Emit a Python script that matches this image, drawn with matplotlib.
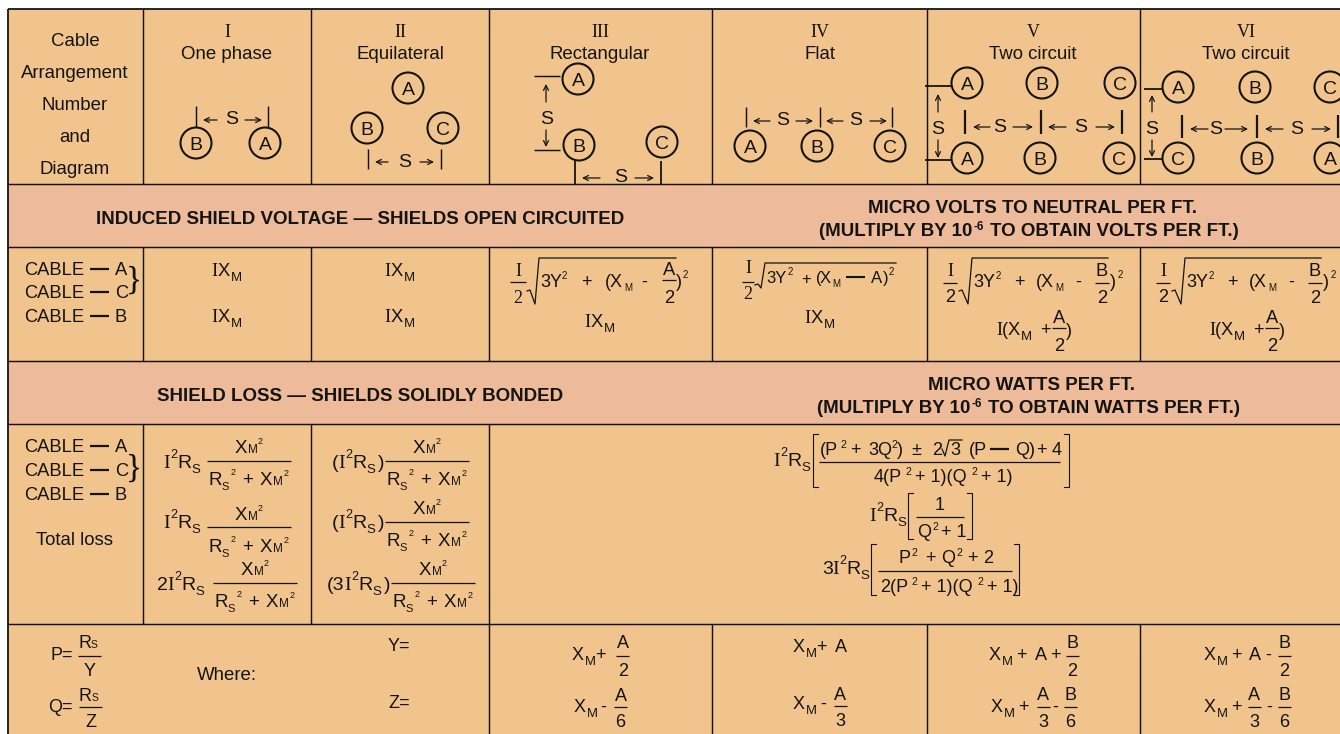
import matplotlib
matplotlib.use("Agg")
import matplotlib.pyplot as plt
from matplotlib.patches import Rectangle, Ellipse

# ---- content ----
COL_X = [142.5, 310.5, 488.5, 711.5, 926.5, 1139.5]
ROW_Y = [184, 247, 361, 424, 624]
ROMAN = ["I", "II", "III", "IV", "V", "VI"]
TITLES = ["One phase", "Equilateral", "Rectangular", "Flat", "Two circuit", "Two circuit"]
ROMAN_CX = [227, 400, 600, 820, 1033, 1246]
HEAD_LEFT = ["Cable", "Arrangement", "Number", "and", "Diagram"]
HEAD_BASE = [46, 78, 110, 142, 174]

TAN = "#F0C48C"
BAND = "#EEBB9A"
INK = "#141414"
SANS = "Liberation Sans"
SERIF = "Liberation Serif"

fig = plt.figure(figsize=(13.40, 7.34), dpi=100, facecolor="white")
ax = fig.add_axes([0, 0, 1, 1])
ax.set_xlim(0, 1340)
ax.set_ylim(734, 0)
ax.axis("off")


def T(x, y, s, size=13.4, fam=SANS, ha="left", weight="normal"):
    ax.text(x, y, s, fontsize=size, family=fam, ha=ha, va="baseline",
            color=INK, weight=weight, zorder=5)


def L(x0, y0, x1, y1, lw=1.05):
    ax.plot([x0, x1], [y0, y1], color=INK, lw=lw, solid_capstyle="butt", zorder=4)


def C(x, y, s):
    ax.add_patch(Ellipse((x, y), 31, 31, fc="none", ec=INK, lw=1.5, zorder=4))
    T(x, y + 7, s, 14, ha="center")


def AR(x0, y0, x1, y1):
    ax.annotate("", xy=(x1, y1), xytext=(x0, y0),
                arrowprops=dict(arrowstyle="->", lw=0.9, color=INK, mutation_scale=9,
                                shrinkA=0, shrinkB=0), zorder=5)


def XM(x, y, size=13.2):
    T(x, y, "X", size)
    T(x + 13, y + 5, "M", size * 0.72)


def IXM(cx, y):
    T(cx - 16, y, "I", 13.2, SERIF)
    T(cx - 9, y, "X", 13.2)
    T(cx + 4, y + 5, "M", 9.5)


def I2RS(x, y):
    T(x, y, "I", 14, SERIF)
    T(x + 7, y - 10, "2", 9)
    T(x + 14, y, "R", 14)
    T(x + 28, y + 5, "S", 9.5)


def FR(cx, ybar, w, num, den, nb, db, size=13.2):
    L(cx - w / 2, ybar, cx + w / 2, ybar, 0.9)
    if num:
        T(cx, nb, num, size, ha="center")
    if den:
        T(cx, db, den, size, ha="center")


def BR(x0, y0, y1, side):
    d = 5 if side == "l" else -5
    ax.plot([x0 + d, x0, x0, x0 + d], [y0, y0, y1, y1], color=INK, lw=0.8, zorder=4)


def RAD(x0, ya, yb, x1, x2, ytop):
    ax.plot([x0, x0 + 3, x1 - 4, x1, x2], [ya, ya - 1, yb, ytop, ytop], color=INK, lw=0.9, zorder=4)


# ---- backgrounds ----
ax.add_patch(Rectangle((8, 9), 1340, 730, fc=TAN, ec="none", zorder=0))
for (a, b) in [(ROW_Y[0], ROW_Y[1]), (ROW_Y[2], ROW_Y[3])]:
    ax.add_patch(Rectangle((8, a), 1340, b - a, fc=BAND, ec="none", zorder=1))

# ---- grid ----
L(8, 9, 1340, 9, 1.3)
L(8, 9, 8, 734, 1.3)
for y in ROW_Y:
    L(8, y, 1340, y)
for x in COL_X:
    L(x, 9, x, ROW_Y[0])
    L(x, ROW_Y[1], x, ROW_Y[2])
for x in COL_X[:3]:
    L(x, ROW_Y[3], x, ROW_Y[4])
for x in COL_X[2:]:
    L(x, ROW_Y[4], x, 734)

# ---- header ----
for s, y in zip(HEAD_LEFT, HEAD_BASE):
    T(75, y, s, ha="center")
for r, t, cx in zip(ROMAN, TITLES, ROMAN_CX):
    T(cx, 37, r, 13, SERIF, ha="center")
    T(cx, 59, t, ha="center")

S = 14
# I
C(196, 143, "B"); C(265, 143, "A")
L(196, 106, 196, 127); L(268, 106, 268, 127)
AR(217, 120, 203, 120); AR(245, 120, 262, 120)
T(232, 124, "S", ha="center", size=S)
# II
C(408, 88, "A"); C(367, 128, "B"); C(443, 128, "C")
L(368, 149, 368, 169); L(441, 149, 441, 169)
AR(388, 162, 375, 162); AR(420, 162, 434, 162)
T(405, 167, "S", ha="center", size=S)
# III
C(578, 79, "A"); C(579, 145, "B"); C(662, 142, "C")
L(534, 76, 560, 76); L(534, 150, 560, 150)
AR(546, 102, 546, 84); AR(546, 130, 546, 147)
T(547, 124, "S", ha="center", size=S)
L(575, 161, 575, 184, 1.3); L(661, 161, 661, 184, 1.3)
AR(600, 178, 582, 178); AR(635, 178, 654, 178)
T(621, 182, "S", ha="center", size=S)
# IV
C(750, 146, "A"); C(817, 146, "B"); C(890, 146, "C")
for x in (746, 819.5, 892):
    L(x, 107, x, 127)
AR(770, 121, 753, 121); AR(796, 121, 813, 121)
AR(843, 121, 826, 121); AR(870, 121, 887, 121)
T(783, 125, "S", ha="center", size=S); T(856, 125, "S", ha="center", size=S)
# V
for x, s in zip((967, 1042, 1120), "ABC"):
    C(x, 83, s)
for x, s in zip((967, 1040, 1119), "ABC"):
    C(x, 158, s)
L(925, 86, 952, 86, 1.3); L(925, 160, 952, 160, 1.3)
AR(938, 112, 938, 94); AR(938, 140, 938, 158)
T(938, 134, "S", ha="center", size=S)
for x in (965, 1041, 1122):
    L(x, 110, x, 134, 1.6)
AR(990, 127, 973, 127); AR(1013, 127, 1033, 127)
AR(1066, 127, 1048, 127); AR(1096, 127, 1115, 127)
T(1000, 132, "S", ha="center", size=S); T(1081, 132, "S", ha="center", size=S)
# VI
for x, s in zip((1178, 1255, 1330), "ABC"):
    C(x, 87, s)
for x, s in zip((1178, 1257, 1330), "CBA"):
    C(x, 158, s)
L(1144, 89, 1163, 89, 1.3); L(1144, 159, 1163, 159, 1.3)
AR(1152, 112, 1152, 95); AR(1152, 140, 1152, 157)
T(1152, 134, "S", ha="center", size=S)
for x in (1182, 1257, 1338):
    L(x, 115, x, 138, 1.6)
AR(1208, 129, 1190, 129); AR(1225, 129, 1248, 129)
AR(1283, 129, 1265, 129); AR(1312, 129, 1331, 129)
T(1216, 134, "S", ha="center", size=S); T(1297, 134, "S", ha="center", size=S)

# ---- bands ----
B = 13.5
T(360, 224, "INDUCED SHIELD VOLTAGE — SHIELDS OPEN CIRCUITED", B, ha="center", weight="bold")
T(360, 401, "SHIELD LOSS — SHIELDS SOLIDLY BONDED", B, ha="center", weight="bold")
T(1032, 213, "MICRO VOLTS TO NEUTRAL PER FT.", B, ha="center", weight="bold")
T(1032, 390, "MICRO WATTS PER FT.", B, ha="center", weight="bold")
for y, w, xr in [(236, "VOLTS", 819), (413, "WATTS", 817)]:
    T(xr, y, "(MULTIPLY BY 10", B, weight="bold")
    T(xr + 155, y - 6, "-6", 8.5, weight="bold")
    T(xr + 171, y, f"TO OBTAIN {w} PER FT.)", B, weight="bold")


def CAB(x, y, letter, d0=66, d1=85, d2=91):
    T(x, y, "CABLE", 13.2)
    L(x + d0, y - 6, x + d1, y - 6, 1.6)
    T(x + d2, y, letter, 13.2)


# ---- row 2 ----
for y, s in zip((275, 298, 322), "ACB"):
    CAB(24, y, s)
T(134, 289, "}", 24, SERIF, ha="center")
IXM(227, 276); IXM(227, 322)
IXM(400, 276); IXM(400, 322)
IXM(600, 327)

FR(518, 282, 16, None, None, 0, 0)
T(518, 276, "I", 13, SERIF, ha="center"); T(518, 303, "2", 13, SERIF, ha="center")
RAD(527, 291, 304, 539, 676, 258)
T(540, 287, "3Y", 13); T(562, 279, "2", 7)
T(581, 287, "+", 13); T(605, 287, "(", 13); T(610, 287, "X", 13); T(624, 291, "M", 7)
T(641, 287, "-", 13)
FR(669, 280, 14, "A", "2", 275, 303)
T(676, 287, ")", 13); T(683, 278, "2", 7)

for off in (0, 213):
    FR(950 + off, 283, 14, None, None, 0, 0)
    T(950 + off, 276, "I", 13, SERIF, ha="center"); T(950 + off, 302, "2", 13, ha="center")
    RAD(959 + off, 291, 304, 972 + off, 1108 + off, 258)
    T(973 + off, 287, "3Y", 13); T(996 + off, 279, "2", 7)
    T(1014 + off, 287, "+", 13); T(1036 + off, 287, "(", 13); T(1041 + off, 287, "X", 13)
    T(1055 + off, 291, "M", 7)
    T(1075 + off, 287, "-", 13)
    FR(1102 + off, 283, 14, "B", "2", 276, 303)
    T(1110 + off, 287, ")", 13); T(1118 + off, 278, "2", 7)
    T(996 + off, 335, "I", 13, SERIF); T(1002 + off, 335, "(", 13); XM(1008 + off, 335)
    T(1040 + off, 335, "+", 13)
    FR(1059 + off, 328, 14, "A", "2", 323, 351)
    T(1066 + off, 336, ")", 13)

FR(748, 282, 12, None, None, 0, 0)
T(748, 273, "I", 13, SERIF, ha="center"); T(748, 299, "2", 13, SERIF, ha="center")
RAD(755, 285, 288, 765, 896, 263)
T(766, 283, "3Y", 12); T(788, 275, "2", 7)
T(801, 284, "+", 12); T(816, 283, "(", 12); T(820, 283, "X", 12); T(832, 287, "M", 7)
L(846, 277, 865, 277, 1.5)
T(871, 283, "A", 12); T(883, 283, ")", 12); T(889, 275, "2", 7)
IXM(820, 323)

# ---- row 4 left ----
for y, s in zip((452, 476, 500), "ACB"):
    CAB(24, y, s)
T(134, 477, "}", 24, SERIF, ha="center")
T(75, 545, "Total loss", ha="center")


def RF(x, ybar, nb, db, w=84):
    """shield-loss fraction: XM^2 / (RS^2 + XM^2)"""
    L(x, ybar, x + w, ybar, 0.9)
    cx = x + w / 2
    T(cx - 14, nb, "X", 13.5)
    T(cx - 1, nb, "M", 8.5)
    T(cx + 9, nb - 9, "2", 6.5)
    T(x + 1, db, "R", 13.5)
    T(x + 14, db + 5, "S", 8)
    T(x + 24, db - 10, "2", 6.5)
    T(x + 35, db, "+", 13.5)
    T(x + 53, db, "X", 13.5)
    T(x + 66, db, "M", 8.5)
    T(x + 77, db - 9, "2", 6.5)


I2RS(163, 468); RF(207, 461, 453, 485)
I2RS(163, 528); RF(207, 527, 520, 552)
T(157, 590, "2", 14); I2RS(167, 590); RF(213, 583, 575, 607)

T(332, 468, "(", 14); I2RS(338, 468); T(378, 468, ")", 14); RF(385, 461, 453, 485)
T(332, 528, "(", 14); I2RS(338, 528); T(378, 528, ")", 14); RF(385, 522, 514, 546)
T(327, 590, "(3", 14); I2RS(344, 590); T(384, 590, ")", 14); RF(391, 583, 575, 607)

# ---- row 4 centre ----
F = 13
I2RS(773, 466)
BR(813, 434, 487, "l"); BR(1069, 434, 487, "r")
L(819, 462, 1060, 462, 0.9)
y = 455
T(820, y, "(P", F); T(840, y - 7, "2", 7.5); T(850, y, "+", F); T(868, y, "3Q", F)
T(891, y - 7, "2", 7.5); T(897, y, ")", F); T(911, y, "±", F); T(932, y, "2", F)
ax.plot([942, 945, 949, 962], [449, 456, 440, 440], color=INK, lw=0.9, zorder=4)
T(950, y, "3", F); T(969, y, "(P", F); L(990, 449, 1009, 449, 1.6)
T(1015, y, "Q)", F); T(1036, y, "+", F); T(1052, y, "4", F)
y = 482
T(874, y, "4(P", F); T(905, y - 7, "2", 7.5); T(915, y, "+ 1)(Q", F); T(971, y - 7, "2", 7.5); T(981, y, "+ 1)", F)

I2RS(869, 521)
BR(908, 493, 539, "l"); BR(972, 493, 539, "r")
L(916, 517, 964, 517, 0.9)
T(940, 510, "1", F, ha="center")
T(917, 537, "Q", F); T(932, 530, "2", 7.5); T(941, 537, "+ 1", F)

T(822, 574, "3", 14); I2RS(832, 574)
BR(871, 544, 595, "l"); BR(1019, 544, 595, "r")
L(878, 571, 1012, 571, 0.9)
y = 563
T(898, y, "P", F); T(911, y - 7, "2", 7.5); T(925, y, "+", F); T(941, y, "Q", F)
T(956, y - 7, "2", 7.5); T(967, y, "+", F); T(983, y, "2", F)
y = 592
T(880, y, "2(P", F); T(911, y - 7, "2", 7.5); T(921, y, "+ 1)(Q", F); T(977, y - 7, "2", 7.5); T(987, y, "+ 1)", F)

# ---- bottom row ----
SZ = 13
T(50, 660, "P=", SZ); L(78, 656, 101, 656, 0.9)
T(78, 648, "R", SZ); T(91, 648, "S", 7.5)
T(89.5, 676, "Y", SZ, ha="center")
T(48, 712, "Q=", SZ); L(79, 707, 102, 707, 0.9)
T(79, 701, "R", SZ); T(92, 701, "S", 7.5)
T(90.5, 727, "Z", SZ, ha="center")
T(226.5, 680, "Where:", ha="center")
T(388, 651, "Y=", SZ); T(388, 708, "Z=", SZ)

XM(572, 660, SZ); T(595, 660, "+", SZ); FR(622.7, 656, 13, "A", "2", 648, 676, SZ)
XM(574, 712, SZ); T(600, 712, "-", SZ); FR(620.5, 707, 13, "A", "6", 701, 727, SZ)

XM(793, 652, SZ); T(816, 652, "+", SZ); T(835, 652, "A", SZ)
XM(793, 709, SZ); T(820, 709, "-", SZ); FR(840, 706, 13, "A", "3", 700, 726, SZ)

XM(989, 660, SZ); T(1016, 660, "+", SZ); T(1035, 660, "A", SZ); T(1050, 660, "+", SZ)
FR(1072, 656, 13, "B", "2", 648, 676, SZ)
XM(991, 712, SZ); T(1018, 712, "+", SZ); FR(1043, 707, 13, "A", "3", 700, 727, SZ)
T(1052, 712, "-", SZ); FR(1070, 707, 13, "B", "6", 700, 727, SZ)

XM(1204, 660, SZ); T(1231, 660, "+", SZ); T(1249, 660, "A", SZ); T(1265, 660, "-", SZ)
FR(1284, 656, 13, "B", "2", 648, 676, SZ)
XM(1204, 712, SZ); T(1231, 712, "+", SZ); FR(1254, 707, 13, "A", "3", 700, 727, SZ)
T(1266, 712, "-", SZ); FR(1284, 707, 13, "B", "6", 700, 727, SZ)

fig.savefig("out.png", dpi=100)
